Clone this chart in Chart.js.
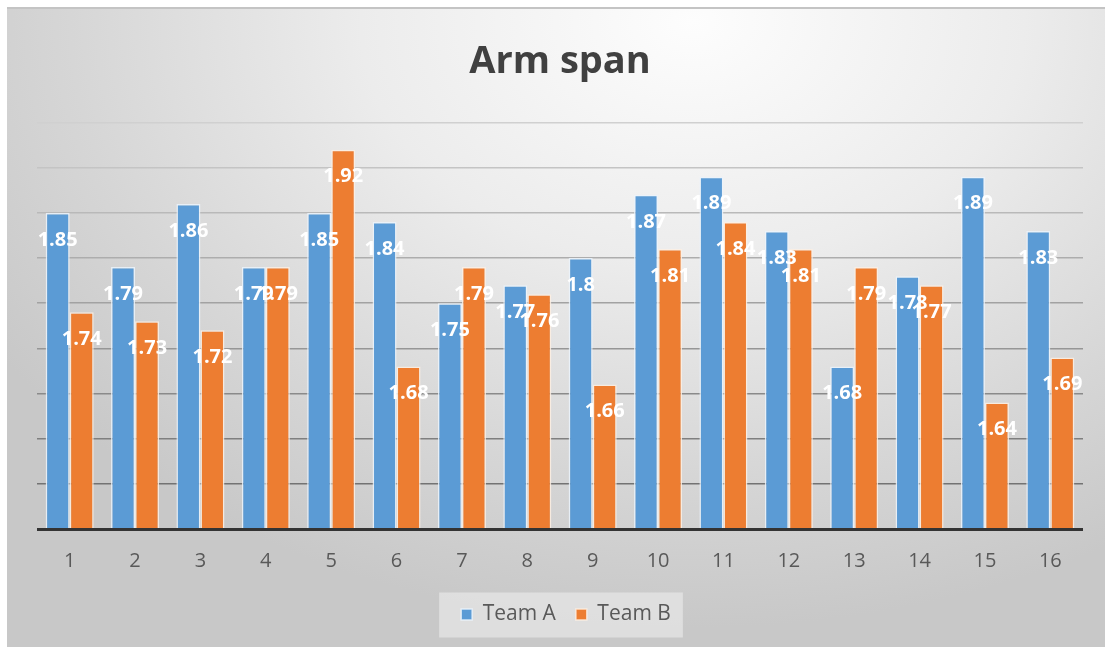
<!DOCTYPE html>
<html>
<head>
<meta charset="utf-8">
<script src="https://cdn.jsdelivr.net/npm/chart.js@4/dist/chart.umd.min.js"></script>
<style>
  html, body { margin: 0; padding: 0; background: #ffffff; overflow: hidden; }
  #frame {
    position: absolute; left: 7px; top: 7px; width: 1106px; height: 640px;
    background: radial-gradient(ellipse 75% 95% at 62% 2%, #fdfdfd 0%, #ececec 40%, #d6d6d6 75%, #c8c8c8 100%);
    border-top: 2px solid #c4c4c4;
    box-sizing: border-box;
  }
  canvas { position: absolute; left: 0; top: -2px; }
</style>
</head>
<body>
<div id="frame"><canvas id="c" width="1106" height="640"></canvas></div>
<script>
const categories = ['1','2','3','4','5','6','7','8','9','10','11','12','13','14','15','16'];
const teamA = [1.85, 1.79, 1.86, 1.79, 1.85, 1.84, 1.75, 1.77, 1.8, 1.87, 1.89, 1.83, 1.68, 1.78, 1.89, 1.83];
const teamB = [1.74, 1.73, 1.72, 1.79, 1.92, 1.68, 1.79, 1.76, 1.66, 1.81, 1.84, 1.81, 1.79, 1.77, 1.64, 1.69];
const seriesNames = ['Team A', 'Team B'];
const chartTitle = 'Arm span';

const FONT = "'Open Sans', 'DejaVu Sans', sans-serif";

function gridColor(v) {
  const t = Math.max(0, Math.min(1, (v - 1.55) / 0.40));
  const c = Math.round(115 + t * (208 - 115));
  return `rgb(${c},${c},${c})`;
}

const legendBoxPlugin = {
  id: 'legendBox',
  afterLayout(chart) {
    const lg = chart.legend;
    if (lg) { lg.left += 6; lg.right += 6; }
  },
  beforeDraw(chart) {
    const lg = chart.legend;
    if (!lg || !lg.legendHitBoxes || !lg.legendHitBoxes.length) return;
    const hb = lg.legendHitBoxes;
    const left = hb[0].left - 22;
    const right = hb[hb.length - 1].left + hb[hb.length - 1].width + 12;
    const cy = hb[0].top + hb[0].height / 2;
    const ctx = chart.ctx;
    ctx.save();
    ctx.fillStyle = 'rgba(240,240,240,0.55)';
    ctx.fillRect(left, cy - 22, right - left, 45);
    ctx.restore();
  }
};

const dataLabelPlugin = {
  id: 'barLabels',
  afterDatasetsDraw(chart) {
    const ctx = chart.ctx;
    const a = chart.chartArea;
    ctx.save();
    ctx.strokeStyle = '#333333';
    ctx.lineWidth = 3;
    ctx.beginPath();
    ctx.moveTo(a.left, a.bottom + 0.5);
    ctx.lineTo(a.right, a.bottom + 0.5);
    ctx.stroke();
    ctx.font = `bold 20px ${FONT}`;
    ctx.fillStyle = '#ffffff';
    ctx.textAlign = 'center';
    ctx.textBaseline = 'middle';
    chart.data.datasets.forEach((ds, di) => {
      const meta = chart.getDatasetMeta(di);
      meta.data.forEach((bar, i) => {
        ctx.fillText(String(ds.data[i]), bar.x, bar.y + 27);
      });
    });
    ctx.restore();
  }
};

new Chart(document.getElementById('c'), {
  type: 'bar',
  data: {
    labels: categories,
    datasets: [
      { label: seriesNames[0], data: teamA, backgroundColor: '#5b9bd5', borderColor: 'rgba(235,243,252,0.85)', borderWidth: 1.5, borderSkipped: 'bottom' },
      { label: seriesNames[1], data: teamB, backgroundColor: '#ed7d31', borderColor: 'rgba(253,238,226,0.85)', borderWidth: 1.5, borderSkipped: 'bottom' }
    ]
  },
  options: {
    responsive: false,
    animation: false,
    devicePixelRatio: 1,
    layout: { padding: { left: 30, right: 30, top: 0, bottom: 12 } },
    datasets: { bar: { categoryPercentage: 0.735, barPercentage: 1.0 } },
    scales: {
      x: {
        grid: { display: false, drawTicks: false },
        border: { display: false },
        ticks: { color: '#595959', font: { family: FONT, size: 20 }, padding: 20 },
        afterFit: (s) => { s.height -= 9; }
      },
      y: {
        min: 1.5, max: 1.95,
        display: true,
        grid: { drawTicks: false, lineWidth: 1.5, color: (c) => gridColor(c.tick ? c.tick.value : 1.5) },
        border: { display: false },
        ticks: { display: false, stepSize: 0.05 }
      }
    },
    plugins: {
      title: {
        display: true, text: chartTitle, color: '#404040',
        font: { family: FONT, size: 38, weight: 'bold' },
        padding: { top: 32, bottom: 38 }
      },
      legend: {
        position: 'bottom',
        labels: { boxWidth: 11, boxHeight: 11, padding: 20, color: '#595959', font: { family: FONT, size: 21 } }
      },
      tooltip: { enabled: false }
    }
  },
  plugins: [legendBoxPlugin, dataLabelPlugin]
});
</script>
</body>
</html>
